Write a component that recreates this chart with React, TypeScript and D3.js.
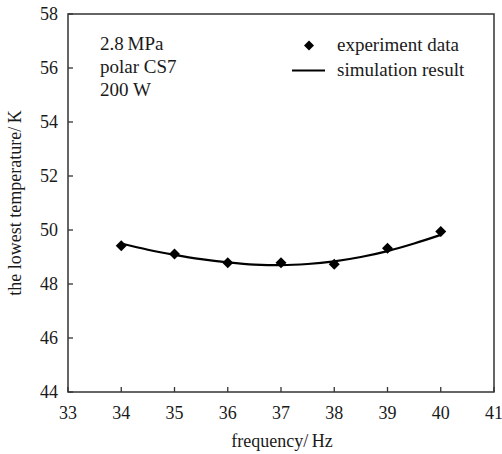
import React from "react";
import * as d3 from "d3";

const expFreq = [34, 35, 36, 37, 38, 39, 40];
const expTemp = [49.42, 49.11, 48.79, 48.79, 48.73, 49.32, 49.94];
const simFreq = [34, 34.5, 35, 35.5, 36, 36.5, 37, 37.5, 38, 38.5, 39, 39.5, 40];
const simTemp = [49.5, 49.27, 49.08, 48.92, 48.8, 48.72, 48.7, 48.74, 48.84, 49.0, 49.22, 49.5, 49.82];
const xTicks = [33, 34, 35, 36, 37, 38, 39, 40, 41];
const yTicks = [44, 46, 48, 50, 52, 54, 56, 58];
const annotations = ["2.8\u2009MPa", "polar CS7", "200 W"];
const legendLabels = ["experiment data", "simulation result"];

export default function App() {
  const W = 502, H = 454;
  const left = 68, right = 494, top = 14, bottom = 392;
  const x = d3.scaleLinear().domain([33, 41]).range([left, right]);
  const y = d3.scaleLinear().domain([44, 58]).range([bottom, top]);
  const line = d3
    .line<number>()
    .x((_, i) => x(simFreq[i]))
    .y((d) => y(d))
    .curve(d3.curveMonotoneX);
  const font = "'Liberation Serif', 'DejaVu Serif', serif";
  const ax = "#333";
  const txt = "#1a1a1a";
  const diamond = (cx: number, cy: number, r: number) =>
    `M${cx},${cy - r}L${cx + r},${cy}L${cx},${cy + r}L${cx - r},${cy}Z`;
  return (
    <svg
      width={W}
      height={H}
      style={{ position: "absolute", left: 0, top: 0, background: "#fff" }}
      fontFamily={font}
    >
      <rect x={0} y={0} width={W} height={H} fill="#fff" />
      {xTicks.map((t) => (
        <g key={"x" + t}>
          <line x1={x(t)} x2={x(t)} y1={bottom} y2={bottom - 5} stroke={ax} strokeWidth={1.3} />
          <text x={x(t)} y={419} textAnchor="middle" fontSize={18} fill={txt}>
            {t}
          </text>
        </g>
      ))}
      {yTicks.map((t) => (
        <g key={"y" + t}>
          <line x1={left} x2={left + 5} y1={y(t)} y2={y(t)} stroke={ax} strokeWidth={1.3} />
          <text x={58} y={y(t) + 6} textAnchor="end" fontSize={18} fill={txt}>
            {t}
          </text>
        </g>
      ))}
      <rect x={left} y={top} width={right - left} height={bottom - top} fill="none" stroke={ax} strokeWidth={1.5} />
      <path d={line(simTemp) || ""} fill="none" stroke="#000" strokeWidth={2.2} />
      {expFreq.map((f, i) => (
        <path key={"p" + f} d={diamond(x(f), y(expTemp[i]), 5.5)} fill="#000" />
      ))}
      {annotations.map((a, i) => (
        <text key={a} x={100} y={50 + i * 23} fontSize={19} fill={txt}>
          {a}
        </text>
      ))}
      <path d={diamond(309, 45.5, 5)} fill="#000" />
      <text x={337} y={51} fontSize={19} fill={txt}>{legendLabels[0]}</text>
      <line x1={292} x2={325} y1={70.5} y2={70.5} stroke="#000" strokeWidth={2.2} />
      <text x={337} y={76} fontSize={19} fill={txt}>{legendLabels[1]}</text>
      <text x={282} y={447} textAnchor="middle" fontSize={18} fill={txt}>
        frequency/{"\u2009"}Hz
      </text>
      <text
        transform={`translate(21,${(top + bottom) / 2}) rotate(-90)`}
        textAnchor="middle"
        fontSize={18}
        fill={txt}
      >
        the lowest temperature/{"\u2009"}K
      </text>
    </svg>
  );
}
